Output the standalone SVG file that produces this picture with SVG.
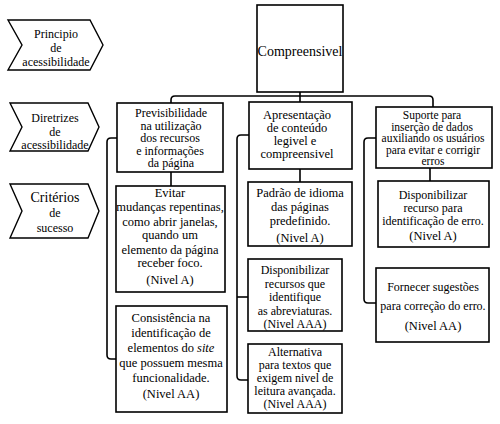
<svg xmlns="http://www.w3.org/2000/svg" width="500" height="424" viewBox="0 0 500 424" font-family="'Liberation Serif', 'Times New Roman', serif">
<style>
.bx{fill:#fff;stroke:#000;stroke-width:1.6}
.ch{fill:#fff;stroke:#000;stroke-width:1.4}
.cn{fill:none;stroke:#000;stroke-width:1.6}
text{font-family:'Liberation Serif', serif;fill:#000;text-anchor:middle}
.t11{font-size:11.5px}
.t12{font-size:12px}
.t13{font-size:12.5px}
.t14{font-size:14px}
</style>
<rect width="500" height="424" fill="#fff"/>
<g id="connectors">
<path class="cn" d="M300,92 V96"/>
<path class="cn" d="M171,103 V100 Q171,96 175,96 H429 Q433,96 433,100 V107"/>
<path class="cn" d="M300,96 V102"/>
<path class="cn" d="M171,172 V186"/>
<path class="cn" d="M117,138 H111 Q107,138 107,142 V355 Q107,359 111,359 H116"/>
<path class="cn" d="M300,169 V182"/>
<path class="cn" d="M249,135 H241 Q237,135 237,139 V376 Q237,380 241,380 H248"/>
<path class="cn" d="M237,297 H248"/>
<path class="cn" d="M430,168 V181"/>
<path class="cn" d="M376,138 H368 Q364,138 364,142 V299 Q364,303 368,303 H376"/>
</g>
<g id="lbl-principio">
<polygon class="ch" points="8,20 90,20 103,45 90,70 8,70 22,45"/>
<text class="t12" x="56" y="38">Principio</text>
<text class="t12" x="56" y="52">de</text>
<text class="t12" x="56" y="66">acessibilidade</text>
</g>
<g id="lbl-diretrizes">
<polygon class="ch" points="10,103 88,103 99,127 88,151 10,151 22,127"/>
<text class="t12" x="55" y="122">Diretrizes</text>
<text class="t12" x="55" y="136">de</text>
<text class="t12" x="55" y="149">acessibilidade</text>
</g>
<g id="lbl-criterios">
<polygon class="ch" points="10,184 88,184 99,211 88,238 10,238 22,211"/>
<text class="t14" x="55" y="202">Critérios</text>
<text class="t12" x="55" y="217">de</text>
<text class="t12" x="55" y="232">sucesso</text>
</g>
<g id="n-compreensivel">
<rect class="bx" x="257" y="5" width="86" height="87"/>
<text class="t14" x="300" y="56">Compreensivel</text>
</g>
<g id="n-previsibilidade">
<rect class="bx" x="117" y="103" width="106" height="69"/>
<text class="t12" x="171" y="117">Previsibilidade</text>
<text class="t12" x="171" y="129.5">na utilização</text>
<text class="t12" x="170" y="142">dos recursos</text>
<text class="t12" x="170" y="154.5">e informações</text>
<text class="t12" x="171" y="167">da página</text>
</g>
<g id="n-apresentacao">
<rect class="bx" x="249" y="102" width="103" height="67"/>
<text class="t13" x="297" y="119">Apresentação</text>
<text class="t13" x="297" y="132">de conteúdo</text>
<text class="t13" x="295" y="145">legivel e</text>
<text class="t13" x="297" y="158">compreensivel</text>
</g>
<g id="n-suporte">
<rect class="bx" x="376" y="107" width="116" height="61"/>
<text class="t11" x="432" y="119">Suporte para</text>
<text class="t11" x="432" y="130.5">inserção de dados</text>
<text class="t11" x="433" y="142">auxiliando os usuários</text>
<text class="t11" x="433" y="153.5">para evitar e corrigir</text>
<text class="t11" x="433" y="165">erros</text>
</g>
<g id="n-evitar">
<rect class="bx" x="116" y="186" width="109" height="106"/>
<text class="t13" x="170" y="197">Evitar</text>
<text class="t13" x="170" y="211">mudanças repentinas,</text>
<text class="t13" x="170" y="226">como abrir janelas,</text>
<text class="t13" x="170" y="239">quando um</text>
<text class="t13" x="170" y="254">elemento da página</text>
<text class="t13" x="170" y="267">receber foco.</text>
<text class="t13" x="170" y="284">(Nivel A)</text>
</g>
<g id="n-consistencia">
<rect class="bx" x="116" y="306" width="111" height="106"/>
<text class="t13" x="171" y="322">Consistência na</text>
<text class="t13" x="171" y="337">identificação de</text>
<text class="t13" x="171" y="352">elementos do <tspan font-style="italic">site</tspan></text>
<text class="t13" x="171" y="367">que possuem mesma</text>
<text class="t13" x="171" y="382">funcionalidade.</text>
<text class="t13" x="171" y="398">(Nivel AA)</text>
</g>
<g id="n-padrao">
<rect class="bx" x="248" y="182" width="104" height="64"/>
<text class="t13" x="300" y="197">Padrão de idioma</text>
<text class="t13" x="300" y="211">das páginas</text>
<text class="t13" x="300" y="225">predefinido.</text>
<text class="t13" x="300" y="242">(Nivel A)</text>
</g>
<g id="n-abreviaturas">
<rect class="bx" x="248" y="259" width="94" height="72"/>
<text class="t12" x="295" y="274">Disponibilizar</text>
<text class="t12" x="295" y="287.5">recursos que</text>
<text class="t12" x="295" y="301">identifique</text>
<text class="t12" x="295" y="314.5">as abreviaturas.</text>
<text class="t12" x="295" y="328">(Nivel AAA)</text>
</g>
<g id="n-alternativa">
<rect class="bx" x="248" y="344" width="94" height="69"/>
<text class="t12" x="295" y="356">Alternativa</text>
<text class="t12" x="295" y="369">para textos que</text>
<text class="t12" x="295" y="382">exigem nivel de</text>
<text class="t12" x="295" y="395">leitura avançada.</text>
<text class="t12" x="295" y="408">(Nivel AAA)</text>
</g>
<g id="n-identificacao">
<rect class="bx" x="378" y="181" width="111" height="66"/>
<text class="t12" x="433" y="199">Disponibilizar</text>
<text class="t12" x="433" y="212">recurso para</text>
<text class="t12" x="433" y="225">identificação de erro.</text>
<text class="t13" x="433" y="240">(Nivel A)</text>
</g>
<g id="n-sugestoes">
<rect class="bx" x="376" y="268" width="113" height="74"/>
<text class="t12" x="433" y="291">Fornecer sugestões</text>
<text class="t12" x="433" y="310">para correção do erro.</text>
<text class="t13" x="433" y="330">(Nivel AA)</text>
</g>
</svg>
